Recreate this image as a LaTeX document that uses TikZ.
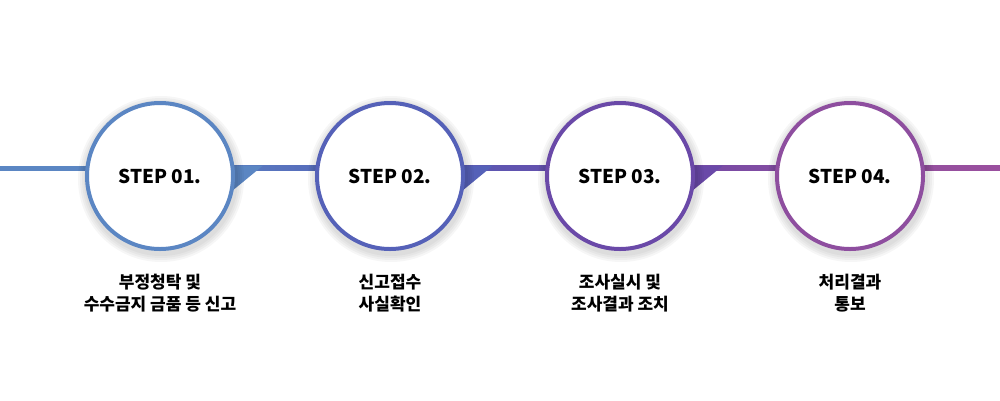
\documentclass[tikz,border=0pt]{standalone}
\usepackage{fontspec}
\newfontfamily\kr{Noto Sans CJK KR}
\usetikzlibrary{calc}
\definecolor{cA}{HTML}{5B86C3}
\definecolor{cB}{HTML}{5561B8}
\definecolor{cC}{HTML}{6A49A8}
\definecolor{cD}{HTML}{8E4E9F}
\definecolor{cE}{HTML}{9A4F9E}
\tikzset{
  stepcirc/.style={circle, fill=white, line width=4pt, minimum size=146pt, inner sep=0pt,
    font=\kr\bfseries\fontsize{19}{22}\selectfont, text=black},
  steplabel/.style={align=center, font=\kr\bfseries\fontsize{17}{22}\selectfont, text=black},
  softshadow/.style={fill=black, opacity=0.035},
}
\begin{document}
\begin{tikzpicture}[x=1pt,y=-1pt]
\useasboundingbox (0,0) rectangle (1000,400);
\coordinate (L) at (0,176);
\coordinate (R) at (1000,176);
\coordinate (p1) at (160,176);
\coordinate (p2) at (390,176);
\coordinate (p3) at (620,176);
\coordinate (p4) at (850,176);
% line segments
\fill[cA] ($(L)+(0,-10.5)$) rectangle ($(p1)+(0,-5.5)$);
\fill[left color=cA, right color=cB] ($(p1)+(0,-10.5)$) rectangle ($(p2)+(0,-5.5)$);
\fill[left color=cB, right color=cC] ($(p2)+(0,-10.5)$) rectangle ($(p3)+(0,-5.5)$);
\fill[left color=cC, right color=cD] ($(p3)+(0,-10.5)$) rectangle ($(p4)+(0,-5.5)$);
\fill[left color=cD, right color=cE] ($(p4)+(0,-10.5)$) rectangle ($(R)+(0,-5.5)$);
% triangles
\foreach \p/\c in {p1/cA,p2/cB,p3/cC}{
  \fill[\c] ($(\p)+(72,-10.5)$) -- ($(\p)+(103,-10.5)$) -- ($(\p)+(72,15)$) -- cycle;
}
% shadows
\foreach \p in {p1,p2,p3,p4}{
  \foreach \r in {77,79,81,83}{
    \fill[softshadow] ($(\p)+(1,3)$) circle (\r);
  }
}
% circles
\node[stepcirc, draw=cA] (s1) at (p1) {STEP 01.};
\node[stepcirc, draw=cB] (s2) at (p2) {STEP 02.};
\node[stepcirc, draw=cC] (s3) at (p3) {STEP 03.};
\node[stepcirc, draw=cD] (s4) at (p4) {STEP 04.};
% labels
\node[steplabel] (l1) at (160,293) {부정청탁 및\\수수금지 금품 등 신고};
\node[steplabel] (l2) at (390,293) {신고접수\\사실확인};
\node[steplabel] (l3) at (620,293) {조사실시 및\\조사결과 조치};
\node[steplabel] (l4) at (850,293) {처리결과\\통보};
\end{tikzpicture}
\end{document}
